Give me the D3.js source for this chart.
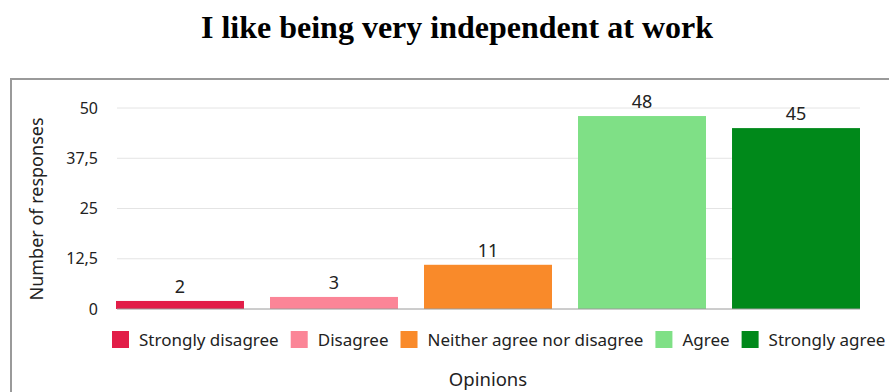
<!DOCTYPE html>
<html>
<head>
<meta charset="utf-8">
<script src="https://cdn.jsdelivr.net/npm/d3@7"></script>
<style>
  html, body { margin: 0; padding: 0; background: #fff; }
  svg { display: block; }
</style>
</head>
<body>
<svg id="chart" width="889" height="392"></svg>
<script>
// Survey responses per opinion
const categories = ["Strongly disagree", "Disagree", "Neither agree nor disagree", "Agree", "Strongly agree"];
const responses = [2, 3, 11, 48, 45];
const colors = ["#e21d48", "#fb8597", "#f98a2a", "#7fe086", "#00891a"];
const yTicks = [0, 12.5, 25, 37.5, 50];
const tickLabels = ["0", "12,5", "25", "37,5", "50"];

const svg = d3.select("#chart");
const font = "'Noto Sans', 'Open Sans', sans-serif";

// Title
svg.append("text")
  .attr("x", 457).attr("y", 38)
  .attr("text-anchor", "middle")
  .attr("font-family", "'Liberation Serif', 'Times New Roman', serif")
  .attr("font-weight", "bold")
  .attr("font-size", 32)
  .attr("fill", "#000")
  .text("I like being very independent at work");

// Frame around the chart panel
svg.append("path")
  .attr("d", "M11,400 L11,79 L900,79")
  .attr("fill", "none")
  .attr("stroke", "#9a9a9a")
  .attr("stroke-width", 2);

const x = d3.scaleBand().domain(categories).range([116, 860]).paddingInner(0.169).paddingOuter(0);
const y = d3.scaleLinear().domain([0, 50]).range([309, 108]);

// Gridlines
svg.append("g").selectAll("line")
  .data(yTicks.filter(d => d > 0))
  .join("line")
  .attr("x1", 117).attr("x2", 860)
  .attr("y1", d => y(d)).attr("y2", d => y(d))
  .attr("stroke", "#e4e4e4").attr("stroke-width", 1);

// Y axis labels
const yAxis = d3.axisLeft(y).tickValues(yTicks).tickSize(0).tickPadding(0)
  .tickFormat((d, i) => tickLabels[i]);
const yg = svg.append("g").attr("transform", "translate(98,0)").call(yAxis);
yg.select(".domain").remove();
yg.selectAll("text")
  .attr("font-family", font).attr("font-size", 16).attr("fill", "#222");

// Y axis title
svg.append("text")
  .attr("transform", "translate(43,209) rotate(-90)")
  .attr("text-anchor", "middle")
  .attr("font-family", font).attr("font-size", 18).attr("fill", "#222")
  .text("Number of responses");

// Bars
svg.append("g").selectAll("rect")
  .data(categories)
  .join("rect")
  .attr("x", d => x(d))
  .attr("width", x.bandwidth())
  .attr("y", (d, i) => y(responses[i]))
  .attr("height", (d, i) => y(0) - y(responses[i]))
  .attr("fill", (d, i) => colors[i]);

// Baseline
svg.append("line")
  .attr("x1", 117).attr("x2", 860)
  .attr("y1", y(0)).attr("y2", y(0))
  .attr("stroke", "#9a9a9a").attr("stroke-width", 1);

// Value labels
svg.append("g").selectAll("text")
  .data(categories)
  .join("text")
  .attr("x", d => x(d) + x.bandwidth() / 2)
  .attr("y", (d, i) => y(responses[i]) - 8)
  .attr("text-anchor", "middle")
  .attr("font-family", font).attr("font-size", 18).attr("fill", "#222")
  .text((d, i) => responses[i]);

// Legend
const legend = svg.append("g");
let lx = 112;
categories.forEach((c, i) => {
  legend.append("rect")
    .attr("x", lx).attr("y", 331).attr("width", 17).attr("height", 17)
    .attr("fill", colors[i]);
  const t = legend.append("text")
    .attr("x", lx + 27).attr("y", 346)
    .attr("font-family", font).attr("font-size", 17).attr("fill", "#222")
    .text(c);
  lx += 27 + t.node().getComputedTextLength() + 12;
});

// X axis title
svg.append("text")
  .attr("x", 488).attr("y", 386)
  .attr("text-anchor", "middle")
  .attr("font-family", font).attr("font-size", 18.5).attr("fill", "#222")
  .text("Opinions");
</script>
</body>
</html>
